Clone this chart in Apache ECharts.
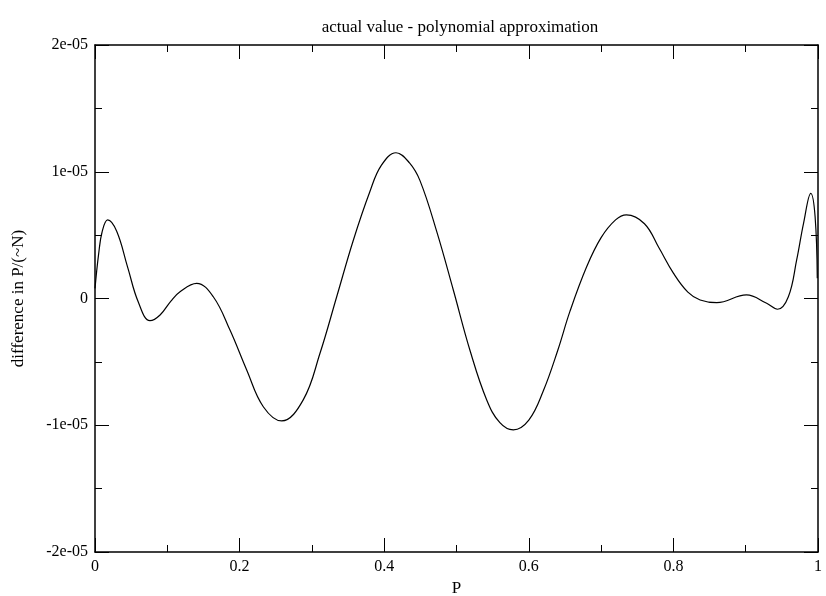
<!DOCTYPE html>
<html>
<head>
<meta charset="utf-8">
<script src="https://cdn.jsdelivr.net/npm/echarts@6/dist/echarts.min.js"></script>
<style>
  html, body { margin: 0; padding: 0; background: #fff; }
  #chart { width: 826px; height: 596px; }
</style>
</head>
<body>
<div id="chart"></div>
<script>
// P values and the difference (actual - polynomial)
const pValues = [
  0, 0.005, 0.01, 0.0175, 0.03, 0.045, 0.06, 0.076, 0.09, 0.105, 0.1176, 0.1406,
  0.1636, 0.1867, 0.2098, 0.2328, 0.2582, 0.288, 0.3112, 0.3343, 0.3573, 0.38,
  0.396, 0.4163, 0.435, 0.4495, 0.4726, 0.4956, 0.5187, 0.5418, 0.56, 0.5786, 0.6, 0.62, 0.64,
  0.657, 0.68, 0.70, 0.72, 0.735, 0.76, 0.78, 0.80, 0.82, 0.837, 0.86, 0.901,
  0.929, 0.944, 0.959, 0.9705, 0.98, 0.99, 0.996, 0.999
]
const diffValues = [
  0.8e-6, 3.5e-6, 5.3e-6, 6.2e-6, 5.3e-6, 2.5e-6, -0.3e-6, -1.75e-6, -1.3e-6, -0.2e-6, 0.54e-6, 1.2e-6,
  0.14e-6, -2.49e-6, -5.64e-6, -8.54e-6, -9.66e-6, -8.0e-6, -4.32e-6, 0.14e-6, 4.6e-6, 8.4e-6,
  10.5e-6, 11.5e-6, 10.7e-6, 9.3e-6, 5.3e-6, 0.67e-6, -4.1e-6, -8.0e-6, -9.8e-6, -10.37e-6, -9.6e-6, -7.3e-6, -4.1e-6,
  -1.0e-6, 2.5e-6, 4.8e-6, 6.2e-6, 6.6e-6, 5.9e-6, 4.0e-6, 2.0e-6, 0.5e-6, -0.12e-6, -0.33e-6, 0.28e-6,
  -0.38e-6, -0.85e-6, 0.14e-6, 3.04e-6, 5.93e-6, 8.3e-6, 6.45e-6, 1.6e-6
]
const xTicks = [0, 0.2, 0.4, 0.6, 0.8, 1]
const yTickLabels = ['-2e-05', '-1e-05', '0', '1e-05', '2e-05']

const chart = echarts.init(document.getElementById('chart'))
const font = 'Liberation Serif'

const baseAxis = {
  axisLine: { show: true, onZero: false, lineStyle: { color: '#000', width: 1.5 } },
  axisTick: { show: true, inside: true, length: 14, lineStyle: { color: '#000', width: 1 } },
  minorTick: { show: true, splitNumber: 2, length: 7, lineStyle: { color: '#000', width: 1 } },
  splitLine: { show: false },
  minorSplitLine: { show: false },
}

chart.setOption({
  animation: false,
  title: {
    text: 'actual value - polynomial approximation',
    left: 455, top: 14, textAlign: 'center',
    textStyle: { fontFamily: font, fontSize: 17, fontWeight: 'normal', color: '#000' },
  },
  grid: { left: 95, right: 8, top: 45, bottom: 44, outerBoundsMode: 'none', containLabel: false },
  xAxis: [
    {
      ...baseAxis, type: 'value', position: 'bottom', min: 0, max: 1, interval: 0.2,
      name: 'P', nameLocation: 'middle', nameGap: 24,
      nameTextStyle: { fontFamily: font, fontSize: 17, color: '#000' },
      axisLabel: {
        fontFamily: font, fontSize: 16, color: '#000', margin: 7,
        formatter: v => String(xTicks[Math.round(v / 0.2)]),
      },
    },
    {
      ...baseAxis, type: 'value', position: 'top', min: 0, max: 1, interval: 0.2,
      axisLabel: { show: false },
    },
  ],
  yAxis: [
    {
      ...baseAxis, type: 'value', position: 'left', min: -2e-5, max: 2e-5, interval: 1e-5,
      name: 'difference in P/(~N)', nameLocation: 'middle', nameGap: 68, nameRotate: 90,
      nameTextStyle: { fontFamily: font, fontSize: 17, color: '#000' },
      axisLabel: {
        fontFamily: font, fontSize: 16, color: '#000', margin: 7,
        formatter: v => yTickLabels[Math.round(v / 1e-5) + 2],
      },
    },
    {
      ...baseAxis, type: 'value', position: 'right', min: -2e-5, max: 2e-5, interval: 1e-5,
      axisLabel: { show: false },
    },
  ],
  series: [{
    type: 'line',
    data: pValues.map((p, i) => [p, diffValues[i]]),
    smooth: 0.4,
    showSymbol: false,
    lineStyle: { color: '#000', width: 1.2 },
  }],
})
</script>
</body>
</html>
